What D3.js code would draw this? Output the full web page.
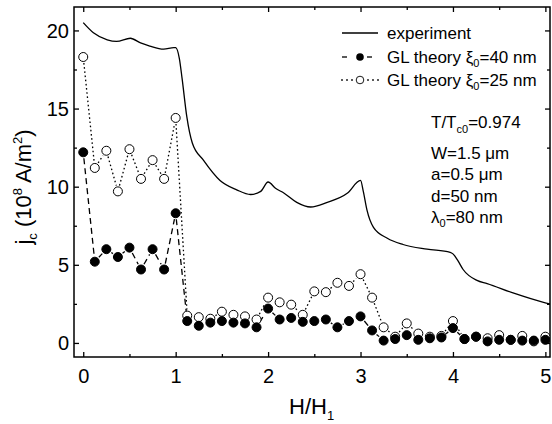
<!DOCTYPE html>
<html>
<head>
<meta charset="utf-8">
<script src="https://cdn.jsdelivr.net/npm/d3@7"></script>
<style>
  body { margin: 0; background: #fff; }
  svg text { font-family: "Liberation Sans", Arial, sans-serif; fill: #000; }
</style>
</head>
<body>
<div id="chart"></div>
<script>
// experimental curve
const expH = [0, 0.11, 0.26, 0.36, 0.51, 0.62, 0.72, 0.87, 0.98, 1.0, 1.04, 1.07, 1.12, 1.18, 1.3, 1.48, 1.66, 1.81, 1.92, 2.0, 2.08, 2.17, 2.31, 2.46, 2.64, 2.86, 3.0, 3.03, 3.07, 3.14, 3.29, 3.46, 3.72, 3.97, 4.0, 4.05, 4.11, 4.26, 4.37, 4.65, 4.98, 5.05];
const expJ = [20.5, 19.85, 19.4, 19.3, 19.5, 19.2, 19.0, 18.8, 18.9, 18.9, 18.2, 16.9, 14.5, 12.8, 11.7, 10.4, 9.8, 9.5, 9.7, 10.3, 9.9, 9.6, 9.0, 8.7, 9.0, 9.6, 10.4, 9.7, 8.5, 7.4, 6.7, 6.3, 6.0, 5.8, 5.7, 5.3, 4.7, 4.0, 3.8, 3.2, 2.6, 2.5];

// GL theory points (same field values for both)
const glH = [0, 0.125, 0.25, 0.375, 0.5, 0.625, 0.75, 0.875, 1.0, 1.125, 1.25, 1.375, 1.5, 1.625, 1.75, 1.875, 2.0, 2.125, 2.25, 2.375, 2.5, 2.625, 2.75, 2.875, 3.0, 3.125, 3.25, 3.375, 3.5, 3.625, 3.75, 3.875, 4.0, 4.125, 4.25, 4.375, 4.5, 4.625, 4.75, 4.875, 5.0];
const gl40 = [12.2, 5.2, 6.0, 5.5, 6.1, 4.7, 6.0, 4.7, 8.3, 1.4, 1.1, 1.3, 1.4, 1.3, 1.25, 1.0, 2.2, 1.5, 1.6, 1.35, 1.4, 1.5, 1.0, 1.4, 1.7, 0.8, 0.15, 0.25, 0.5, 0.2, 0.3, 0.35, 0.95, 0.25, 0.4, 0.1, 0.2, 0.2, 0.15, 0.15, 0.2];
const gl25 = [18.3, 11.2, 12.3, 9.7, 12.4, 10.5, 11.7, 10.5, 14.4, 1.75, 1.65, 1.55, 2.0, 1.8, 1.7, 1.5, 2.9, 2.6, 2.45, 1.8, 3.3, 3.25, 3.85, 3.65, 4.4, 2.9, 1.0, 0.4, 1.25, 0.6, 0.4, 0.45, 1.4, 0.25, 0.4, 0.3, 0.5, 0.2, 0.45, 0.1, 0.4];

const xMajor = [0, 1, 2, 3, 4, 5];
const xMinor = [0.5, 1.5, 2.5, 3.5, 4.5];
const yMajor = [0, 5, 10, 15, 20];
const yMinor = [2.5, 7.5, 12.5, 17.5];

const W = 552, H = 424;
const plot = { left: 74, right: 550, top: 7, bottom: 357 };
const R = 4.5;

const svg = d3.select("#chart").append("svg")
    .attr("width", W).attr("height", H);

const x = d3.scaleLinear().domain([-0.1, 5.05]).range([plot.left, plot.right]);
const y = d3.scaleLinear().domain([-0.9, 21.5]).range([plot.bottom, plot.top]);

// axes: ticks pointing inward on all four sides
function tickAxis(axisFn, scale, values, size, translate, labels) {
    const g = svg.append("g")
        .attr("transform", translate)
        .call(axisFn(scale).tickValues(values).tickSize(size).tickSizeOuter(0)
            .tickFormat(labels ? d3.format("d") : ""));
    g.select(".domain").remove();
    g.selectAll("line").attr("stroke", "#000").attr("stroke-width", 1.3);
    return g;
}
const bx = tickAxis(d3.axisBottom, x, xMajor, -5, `translate(0,${plot.bottom})`, true);
tickAxis(d3.axisBottom, x, xMinor, -3, `translate(0,${plot.bottom})`, false);
tickAxis(d3.axisTop, x, xMajor, -5, `translate(0,${plot.top})`, false);
tickAxis(d3.axisTop, x, xMinor, -3, `translate(0,${plot.top})`, false);
const ly = tickAxis(d3.axisLeft, y, yMajor, -5, `translate(${plot.left},0)`, true);
tickAxis(d3.axisLeft, y, yMinor, -3, `translate(${plot.left},0)`, false);
tickAxis(d3.axisRight, y, yMajor, -5, `translate(${plot.right},0)`, false);
tickAxis(d3.axisRight, y, yMinor, -3, `translate(${plot.right},0)`, false);

bx.selectAll("text").attr("font-size", 20).attr("dy", 0).attr("y", 26);
ly.selectAll("text").attr("font-size", 20).attr("x", -5).attr("dy", "0.35em");

svg.append("rect")
    .attr("x", plot.left).attr("y", plot.top)
    .attr("width", plot.right - plot.left).attr("height", plot.bottom - plot.top)
    .attr("fill", "none").attr("stroke", "#000").attr("stroke-width", 1.5);

const clip = svg.append("clipPath").attr("id", "clip").append("rect")
    .attr("x", plot.left).attr("y", plot.top)
    .attr("width", plot.right - plot.left).attr("height", plot.bottom - plot.top);
const inner = svg.append("g").attr("clip-path", "url(#clip)");

// experiment
inner.append("path")
    .datum(expH.map((h, i) => [h, expJ[i]]))
    .attr("fill", "none").attr("stroke", "#000").attr("stroke-width", 1.3)
    .attr("d", d3.line().x(d => x(d[0])).y(d => y(d[1])).curve(d3.curveMonotoneX));

// connecting segments that stop short of the markers
function gappedLines(vals, dash) {
    const pts = glH.map((h, i) => [x(h), y(vals[i])]);
    const segs = [];
    for (let i = 1; i < pts.length; i++) {
        const [x0, y0] = pts[i - 1], [x1, y1] = pts[i];
        const len = Math.hypot(x1 - x0, y1 - y0), gap = R + 1.5;
        if (len <= 2 * gap + 1) continue;
        const ux = (x1 - x0) / len, uy = (y1 - y0) / len;
        segs.push([x0 + ux * gap, y0 + uy * gap, x1 - ux * gap, y1 - uy * gap]);
    }
    inner.append("g").selectAll("line").data(segs).enter().append("line")
        .attr("x1", d => d[0]).attr("y1", d => d[1])
        .attr("x2", d => d[2]).attr("y2", d => d[3])
        .attr("stroke", "#000").attr("stroke-width", 1.3)
        .attr("stroke-dasharray", dash);
}
gappedLines(gl25, "1.6,2.6");
gappedLines(gl40, "6,4");

inner.append("g").selectAll("circle").data(glH).enter().append("circle")
    .attr("cx", d => x(d)).attr("cy", (d, i) => y(gl25[i])).attr("r", R)
    .attr("fill", "#fff").attr("stroke", "#000").attr("stroke-width", 1);
inner.append("g").selectAll("circle").data(glH).enter().append("circle")
    .attr("cx", d => x(d)).attr("cy", (d, i) => y(gl40[i])).attr("r", R)
    .attr("fill", "#000").attr("stroke", "#000").attr("stroke-width", 1);

// legend
const lg = svg.append("g");
lg.append("line").attr("x1", 342).attr("x2", 378).attr("y1", 33).attr("y2", 33)
    .attr("stroke", "#000").attr("stroke-width", 1.3);
[[342, 347], [367, 372]].forEach(s => lg.append("line")
    .attr("x1", s[0]).attr("x2", s[1]).attr("y1", 57).attr("y2", 57)
    .attr("stroke", "#000").attr("stroke-width", 1.3));
lg.append("circle").attr("cx", 360).attr("cy", 57).attr("r", 3.8).attr("fill", "#000");
[342, 347, 352, 368, 373, 378].forEach(px => lg.append("rect")
    .attr("x", px - 0.8).attr("y", 80 - 0.8).attr("width", 1.6).attr("height", 1.6).attr("fill", "#000"));
lg.append("circle").attr("cx", 360).attr("cy", 80).attr("r", 3.8)
    .attr("fill", "#fff").attr("stroke", "#000").attr("stroke-width", 0.9);

const fs = 17;
lg.append("text").attr("x", 387).attr("y", 39).attr("font-size", fs).text("experiment");
[[63, "40"], [86, "25"]].forEach(([yy, v]) => {
    const t = lg.append("text").attr("x", 387).attr("y", yy).attr("font-size", fs);
    t.append("tspan").text("GL theory \u03be");
    t.append("tspan").attr("font-size", 11).attr("dy", 4).text("0");
    t.append("tspan").attr("dy", -4).text(`=${v} nm`);
});

// parameters
const ann = svg.append("g").attr("font-size", fs);
const t1 = ann.append("text").attr("x", 431).attr("y", 128);
t1.append("tspan").text("T/T");
t1.append("tspan").attr("font-size", 11).attr("dy", 5).text("c0");
t1.append("tspan").attr("dy", -5).text("=0.974");
ann.append("text").attr("x", 431).attr("y", 159).text("W=1.5 \u03bcm");
ann.append("text").attr("x", 431).attr("y", 180).text("a=0.5 \u03bcm");
ann.append("text").attr("x", 431).attr("y", 202).text("d=50 nm");
const t5 = ann.append("text").attr("x", 431).attr("y", 223);
t5.append("tspan").text("\u03bb");
t5.append("tspan").attr("font-size", 11).attr("dy", 4).text("0");
t5.append("tspan").attr("dy", -4).text("=80 nm");

// axis titles
const xt = svg.append("text").attr("x", 289).attr("y", 414).attr("font-size", 22);
xt.append("tspan").text("H/H");
xt.append("tspan").attr("font-size", 13).attr("dy", 6).text("1");

const yt = svg.append("text").attr("transform", "translate(31,187) rotate(-90)")
    .attr("text-anchor", "middle").attr("font-size", 22);
yt.append("tspan").text("j");
yt.append("tspan").attr("font-size", 13).attr("dy", 6).text("c");
yt.append("tspan").attr("dy", -6).text(" (10");
yt.append("tspan").attr("font-size", 13).attr("dy", -9).text("8");
yt.append("tspan").attr("dy", 9).text(" A/m");
yt.append("tspan").attr("font-size", 13).attr("dy", -9).text("2");
yt.append("tspan").attr("dy", 9).text(")");
</script>
</body>
</html>
